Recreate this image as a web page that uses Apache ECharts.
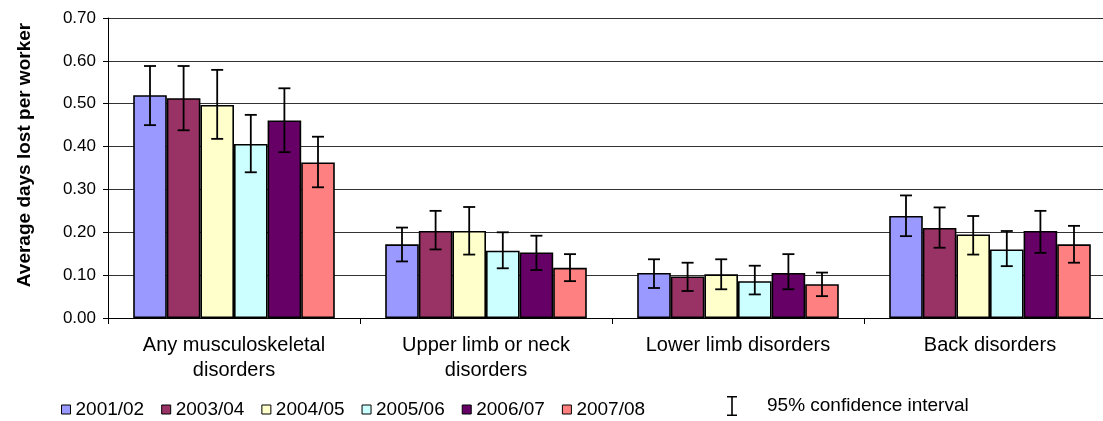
<!DOCTYPE html>
<html>
<head>
<meta charset="utf-8">
<script src="https://cdn.jsdelivr.net/npm/echarts@6/dist/echarts.min.js"></script>
<style>
html,body{margin:0;padding:0;background:#fff;}
#chart{width:1103px;height:421px;}
</style>
</head>
<body>
<div id="chart"></div>
<script>
const categories = ['Any musculoskeletal\ndisorders', 'Upper limb or neck\ndisorders', 'Lower limb disorders', 'Back disorders'];
const years = ['2001/02', '2003/04', '2004/05', '2005/06', '2006/07', '2007/08'];
const yTicks = [0, 0.1, 0.2, 0.3, 0.4, 0.5, 0.6, 0.7];

const values2001 = [0.520, 0.172, 0.105, 0.238];
const values2003 = [0.513, 0.203, 0.097, 0.210];
const values2004 = [0.497, 0.203, 0.102, 0.195];
const values2005 = [0.406, 0.157, 0.086, 0.160];
const values2006 = [0.461, 0.153, 0.105, 0.203];
const values2007 = [0.363, 0.117, 0.079, 0.172];

const low2001 = [0.450, 0.132, 0.070, 0.191];
const low2003 = [0.438, 0.160, 0.063, 0.164];
const low2004 = [0.418, 0.148, 0.067, 0.148];
const low2005 = [0.340, 0.116, 0.055, 0.121];
const low2006 = [0.387, 0.112, 0.067, 0.152];
const low2007 = [0.305, 0.086, 0.051, 0.129];

const high2001 = [0.588, 0.211, 0.137, 0.286];
const high2003 = [0.588, 0.250, 0.129, 0.258];
const high2004 = [0.579, 0.259, 0.137, 0.238];
const high2005 = [0.474, 0.200, 0.122, 0.203];
const high2006 = [0.536, 0.192, 0.149, 0.250];
const high2007 = [0.423, 0.149, 0.106, 0.215];

const colors = ['#9999FF', '#993366', '#FFFFCC', '#CCFFFF', '#660066', '#FF8080'];
const valueSets = [values2001, values2003, values2004, values2005, values2006, values2007];
const lowSets = [low2001, low2003, low2004, low2005, low2006, low2007];
const highSets = [high2001, high2003, high2004, high2005, high2006, high2007];

const GROUP_FRACTION = 0.8;
const errData = [];
for (let s = 0; s < years.length; s++) {
  for (let c = 0; c < categories.length; c++) {
    errData.push([c, lowSets[s][c], highSets[s][c], s]);
  }
}

const font = '"Liberation Sans", Arial, sans-serif';

const barSeries = years.map((y, i) => ({
  name: y,
  type: 'bar',
  data: valueSets[i],
  barGap: '0%',
  barCategoryGap: '20%',
  itemStyle: { color: colors[i], borderColor: '#000', borderWidth: 1.6 }
}));

const errSeries = {
  name: '95% confidence interval',
  type: 'custom',
  z: 5,
  itemStyle: { color: '#000' },
  encode: { x: 0, y: [1, 2] },
  data: errData,
  renderItem: function (params, api) {
    const c = api.value(0);
    const s = api.value(3);
    const base = api.coord([c, 0]);
    const catW = api.size([1, 0])[0];
    const bw = catW * GROUP_FRACTION / years.length;
    const cx = base[0] + (s - (years.length - 1) / 2) * bw;
    const yLo = api.coord([c, api.value(1)])[1];
    const yHi = api.coord([c, api.value(2)])[1];
    const cap = 6;
    const st = { stroke: '#000', lineWidth: 1.8 };
    return {
      type: 'group',
      children: [
        { type: 'line', shape: { x1: cx, y1: yLo, x2: cx, y2: yHi }, style: st },
        { type: 'line', shape: { x1: cx - cap, y1: yLo, x2: cx + cap, y2: yLo }, style: st },
        { type: 'line', shape: { x1: cx - cap, y1: yHi, x2: cx + cap, y2: yHi }, style: st }
      ]
    };
  }
};

const chart = echarts.init(document.getElementById('chart'));
chart.setOption({
  animation: false,
  backgroundColor: '#fff',
  textStyle: { fontFamily: font },
  grid: { left: 108, width: 1008, top: 18, height: 300, containLabel: false, outerBoundsMode: 'none' },
  legend: [
    {
      data: years,
      left: 56,
      top: 395,
      icon: 'rect',
      itemWidth: 9,
      itemHeight: 9,
      itemGap: 17,
      itemStyle: { borderColor: '#000', borderWidth: 1 },
      textStyle: { fontSize: 19, color: '#000', fontFamily: font }
    },
    {
      data: [{ name: '95% confidence interval', icon: 'path://M0,0H10V1.6H5.8V18.4H10V20H0V18.4H4.2V1.6H0Z' }],
      left: 722,
      top: 391,
      itemWidth: 10,
      itemHeight: 20,
      textStyle: { fontSize: 19, color: '#000', fontFamily: font, padding: [0, 0, 0, 25] }
    }
  ],
  xAxis: {
    type: 'category',
    data: categories,
    axisLine: { lineStyle: { color: '#000', width: 1 } },
    axisTick: { show: true, alignWithLabel: false, length: 6, lineStyle: { color: '#000' } },
    axisLabel: { color: '#000', fontSize: 20, margin: 15, lineHeight: 25, interval: 0, fontFamily: font },
    splitLine: { show: false }
  },
  yAxis: {
    type: 'value',
    min: yTicks[0],
    max: yTicks[yTicks.length - 1],
    interval: 0.1,
    name: 'Average days lost per worker',
    nameLocation: 'middle',
    nameRotate: 90,
    nameGap: 74,
    nameTextStyle: { fontSize: 19, fontWeight: 'bold', color: '#000', fontFamily: font, padding: [0, 0, 0, 26] },
    axisLine: { show: true, lineStyle: { color: '#000', width: 1 } },
    axisTick: { show: true, length: 5, lineStyle: { color: '#000' } },
    axisLabel: { color: '#000', fontSize: 17, margin: 12, fontFamily: font, formatter: v => v.toFixed(2) },
    splitLine: { show: true, lineStyle: { color: '#333', width: 1 } }
  },
  series: [...barSeries, errSeries]
});
</script>
</body>
</html>
